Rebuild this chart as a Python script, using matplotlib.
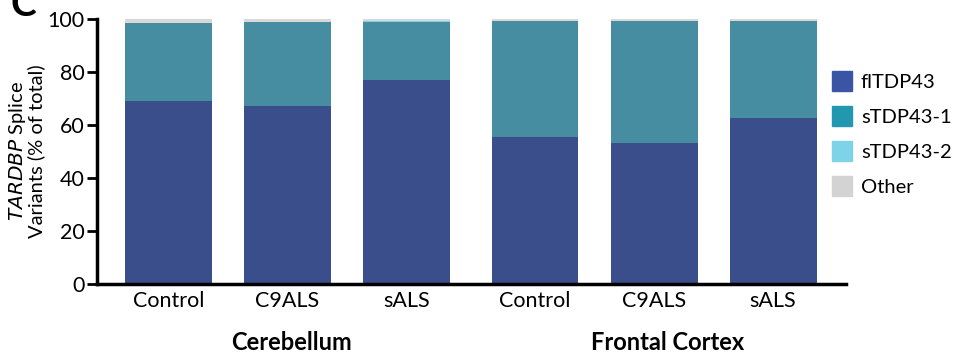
import matplotlib.pyplot as plt
from matplotlib.patches import Patch

plt.rcParams['font.family'] = ['Lato', 'DejaVu Sans']

# data (% of total)
conditions = ['Control', 'C9ALS', 'sALS', 'Control', 'C9ALS', 'sALS']
regions = ['Cerebellum', 'Frontal Cortex']
fl_tdp43 = [69.0, 67.2, 77.0, 55.5, 53.2, 62.6]
s_tdp43_1 = [29.3, 31.6, 21.9, 43.6, 46.0, 36.6]
s_tdp43_2 = [0.2, 0.2, 0.2, 0.1, 0.1, 0.1]
other = [1.5, 1.0, 0.9, 0.8, 0.7, 0.7]
positions = [0, 1, 2, 3.08, 4.08, 5.08]

fig = plt.figure(figsize=(9.61, 3.58), dpi=100)
ax = fig.add_axes([0.101, 0.207, 0.779, 0.740])

w = 0.73
bottom = [0] * 6
for vals, col in [(fl_tdp43, '#3A4E8C'), (s_tdp43_1, '#468DA2'),
                  (s_tdp43_2, '#7FD3E8'), (other, '#D8D8D8')]:
    ax.bar(positions, vals, w, bottom=bottom, color=col, edgecolor='none')
    bottom = [b + v for b, v in zip(bottom, vals)]

ax.set_xlim(-0.60, 5.69)
ax.set_ylim(0, 100)
ax.set_yticks([0, 20, 40, 60, 80, 100])
ax.set_xticks(positions)
ax.set_xticklabels(conditions, fontsize=15.5)
ax.tick_params(axis='x', length=0, pad=5)
ax.tick_params(axis='y', length=7, width=2, labelsize=15.5, pad=2)
for s in ['top', 'right']:
    ax.spines[s].set_visible(False)
ax.spines['left'].set_linewidth(2.5)
ax.spines['bottom'].set_linewidth(2.5)

ax.set_ylabel(r'$\it{TARDBP}$ Splice' + '\nVariants (% of total)', fontsize=14.5,
              linespacing=0.9, labelpad=2)

fig.text(292 / 961, 1 - 342 / 358, regions[0], fontsize=17, fontweight='bold',
         ha='center', va='center')
fig.text(668 / 961, 1 - 342 / 358, regions[1], fontsize=17, fontweight='bold',
         ha='center', va='center')
fig.text(10 / 961, 1.035, 'C', fontsize=28, fontweight='bold', ha='left', va='top')

handles = [Patch(color='#3B55A5', label='flTDP43'),
           Patch(color='#2198B0', label='sTDP43-1'),
           Patch(color='#7FD3E8', label='sTDP43-2'),
           Patch(color='#D3D3D3', label='Other')]
fig.legend(handles=handles, loc='upper left', bbox_to_anchor=(0.857, 0.825),
           frameon=False, fontsize=14.5, handlelength=1.0, handleheight=1.15,
           handletextpad=0.45, labelspacing=0.75, borderaxespad=0)

fig.savefig('out.png', dpi=100)
